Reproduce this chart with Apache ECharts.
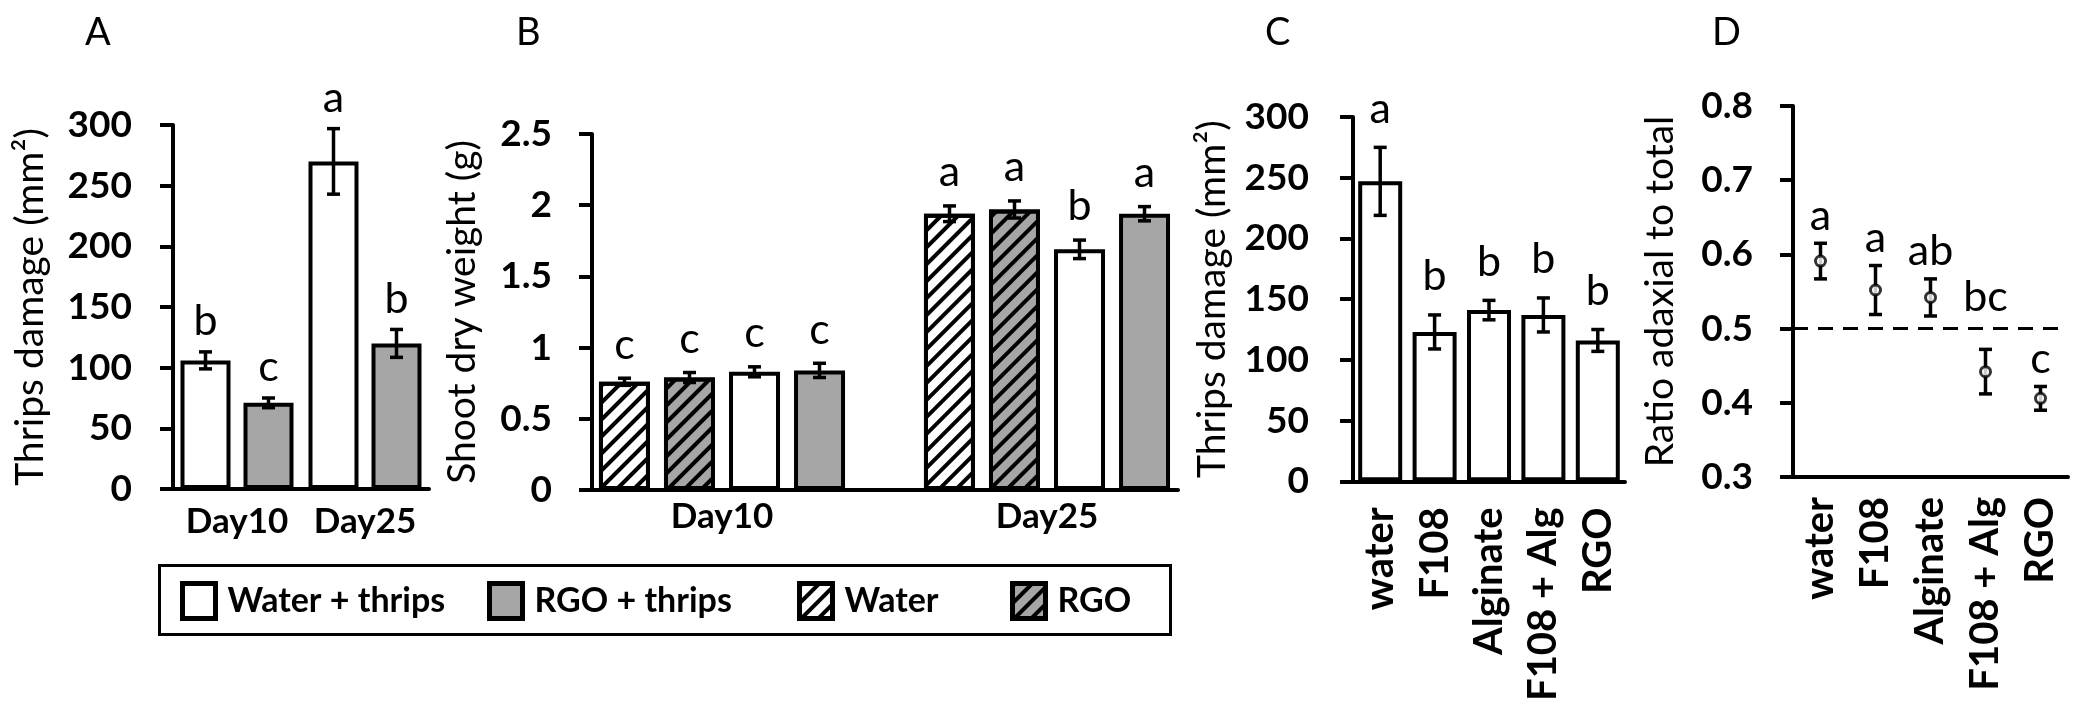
<!DOCTYPE html>
<html>
<head>
<meta charset="utf-8">
<script src="https://cdn.jsdelivr.net/npm/echarts@6/dist/echarts.min.js"></script>
<style>
html,body{margin:0;padding:0;background:#fff;}
#c{width:2080px;height:704px;}
</style>
</head>
<body>
<div id="c"></div>
<script>
// ---------- data ----------
const catsA = ['Day10', 'Day25'];
const ticksA = [0, 50, 100, 150, 200, 250, 300];
const aWaterThrips = [106, 270];
const aWaterThripsErr = [7, 27];
const aWaterThripsLetters = ['b', 'a'];
const aRgoThrips = [71, 120];
const aRgoThripsErr = [4, 11.5];
const aRgoThripsLetters = ['c', 'b'];

const catsB = ['Day10', 'Day25'];
const ticksB = [0, 0.5, 1, 1.5, 2, 2.5];
const bWater = [0.76, 1.94];
const bWaterErr = [0.025, 0.055];
const bWaterLetters = ['c', 'a'];
const bRgo = [0.79, 1.97];
const bRgoErr = [0.035, 0.06];
const bRgoLetters = ['c', 'a'];
const bWaterThrips = [0.83, 1.69];
const bWaterThripsErr = [0.035, 0.065];
const bWaterThripsLetters = ['c', 'b'];
const bRgoThrips = [0.84, 1.94];
const bRgoThripsErr = [0.05, 0.05];
const bRgoThripsLetters = ['c', 'a'];

const catsC = ['water', 'F108', 'Alginate', 'F108 + Alg', 'RGO'];
const ticksC = [0, 50, 100, 150, 200, 250, 300];
const cDamage = [247, 123, 141, 137, 116];
const cDamageErr = [28, 14, 8, 14, 9];
const cLetters = ['a', 'b', 'b', 'b', 'b'];

const catsD = ['water', 'F108', 'Alginate', 'F108 + Alg', 'RGO'];
const ticksD = [0.3, 0.4, 0.5, 0.6, 0.7, 0.8];
const dRatio = [0.591, 0.552, 0.542, 0.442, 0.406];
const dRatioErr = [0.024, 0.033, 0.025, 0.030, 0.016];
const dLetters = ['a', 'a', 'ab', 'bc', 'c'];
const dReference = 0.5;

// ---------- styles ----------
const GRAY = '#a6a6a6';
const FONT = 'Lato';
const LETTER_SIZE = 43;
const axisLineStyle = {show: true, lineStyle: {color: '#000', width: 4}};
const yTick = {show: true, length: 13, lineStyle: {color: '#000', width: 4}};
const tickLabel = (margin) => ({fontFamily: FONT, fontWeight: 'bold', fontSize: 37, color: '#000', margin: margin});
const nameStyle = {fontFamily: FONT, fontSize: 39, color: '#000'};
const hatch = {symbol: 'rect', symbolSize: 1, dashArrayX: [1, 0], dashArrayY: [4, 8], rotation: -Math.PI / 4, color: '#000'};

function errData(vals, errs) { return vals.map((v, i) => [i, v, errs[i]]); }

// avoidValue: optional reference value whose line the letters should not sit on
function errBars(letters, xOff, cap, gap, fontSize, avoidValue) {
  return function (params, api) {
    const i = api.value(0), m = api.value(1), e = api.value(2);
    const top = api.coord([i, m + e]);
    const bot = api.coord([i, m - e]);
    const x = top[0] + xOff;
    let yb = top[1] - gap;
    if (avoidValue != null) {
      const refY = api.coord([i, avoidValue])[1];
      const glyphTop = yb - 0.95 * fontSize, glyphBot = yb - 0.2 * fontSize;
      if (refY > glyphTop && refY < glyphBot) yb = refY - 10;
    }
    const ls = {stroke: '#000', lineWidth: 3.5};
    return {
      type: 'group',
      children: [
        {type: 'line', shape: {x1: x, y1: top[1], x2: x, y2: bot[1]}, style: ls},
        {type: 'line', shape: {x1: x - cap, y1: top[1], x2: x + cap, y2: top[1]}, style: ls},
        {type: 'line', shape: {x1: x - cap, y1: bot[1], x2: x + cap, y2: bot[1]}, style: ls},
        {type: 'text', style: {text: letters[params.dataIndex], x: x, y: yb,
          align: 'center', verticalAlign: 'bottom', textAlign: 'center', textVerticalAlign: 'bottom',
          font: fontSize + 'px ' + FONT, fill: '#000'}}
      ]
    };
  };
}

function errSeries(name, xi, vals, errs, letters, xOff, gap, avoidValue) {
  return {type: 'custom', name: name, xAxisIndex: xi, yAxisIndex: xi, z: 5, clip: false,
    renderItem: errBars(letters, xOff, 6.5, gap, LETTER_SIZE, avoidValue), data: errData(vals, errs)};
}

const barStyle = (color, decal) => {
  const s = {color: color, borderColor: '#000', borderWidth: 4};
  if (decal) s.decal = decal;
  return s;
};

const chart = echarts.init(document.getElementById('c'), null, {renderer: 'canvas'});

const legendCommon = {orient: 'horizontal', padding: 0, itemWidth: 33, itemHeight: 35, itemGap: 0,
  icon: 'rect', selectedMode: false, top: 581,
  itemStyle: {borderColor: '#000', borderWidth: 5},
  textStyle: {fontFamily: FONT, fontWeight: 'bold', fontSize: 34, color: '#000', padding: [0, 0, 0, 7]}};

const panelTitle = (t, left) => ({text: t, left: left, top: 14, padding: 0,
  textStyle: {fontFamily: FONT, fontWeight: 'normal', fontSize: 38, color: '#000'}});

const catLabelBold = (margin) => ({fontFamily: FONT, fontWeight: 'bold', fontSize: 35, color: '#000', margin: margin, interval: 0});
const catLabelRot = (margin) => ({fontFamily: FONT, fontWeight: 'bold', fontSize: 40, color: '#000', margin: margin, rotate: 90, interval: 0});

const option = {
  animation: false,
  backgroundColor: '#fff',
  title: [panelTitle('A', 85), panelTitle('B', 516), panelTitle('C', 1265), panelTitle('D', 1712)],
  legend: [
    Object.assign({}, legendCommon, {left: 180, data: ['Water + thrips']}),
    Object.assign({}, legendCommon, {left: 487, data: ['RGO + thrips']}),
    Object.assign({}, legendCommon, {left: 797, data: ['Water']}),
    Object.assign({}, legendCommon, {left: 1010, data: ['RGO']})
  ],
  graphic: [
    {type: 'rect', left: 157, top: 563, shape: {width: 1011, height: 69},
     style: {fill: 'none', stroke: '#000', lineWidth: 3}, silent: true, z: -1}
  ],
  grid: [
    {left: 173, top: 125, width: 256, height: 364},
    {left: 559.5, top: 134, width: 650, height: 356},
    {left: 1353, top: 117, width: 272, height: 366},
    {left: 1793, top: 106, width: 275, height: 371},
    {left: 592, top: 134, width: 586, height: 356}
  ],
  xAxis: [
    {type: 'category', gridIndex: 0, data: catsA, axisLine: axisLineStyle, axisTick: {show: false},
     axisLabel: catLabelBold(15)},
    {type: 'category', gridIndex: 1, data: catsB, axisLine: {show: false}, axisTick: {show: false},
     axisLabel: catLabelBold(9)},
    {type: 'category', gridIndex: 2, data: catsC, axisLine: axisLineStyle, axisTick: {show: false},
     axisLabel: catLabelRot(26)},
    {type: 'category', gridIndex: 3, data: catsD, axisLine: axisLineStyle, axisTick: {show: false},
     axisLabel: catLabelRot(20)},
    {type: 'value', gridIndex: 4, min: 0, max: 1, axisLine: axisLineStyle, axisTick: {show: false},
     axisLabel: {show: false}, splitLine: {show: false}}
  ],
  yAxis: [
    {type: 'value', gridIndex: 0, min: ticksA[0], max: ticksA[ticksA.length - 1], interval: ticksA[1] - ticksA[0],
     axisLine: axisLineStyle, axisTick: yTick, splitLine: {show: false}, axisLabel: tickLabel(41),
     name: 'Thrips damage (mm²)', nameLocation: 'middle', nameRotate: 90, nameGap: 123, nameTextStyle: nameStyle},
    {type: 'value', gridIndex: 1, offset: -32.5, min: ticksB[0], max: ticksB[ticksB.length - 1], interval: ticksB[1] - ticksB[0],
     axisLine: axisLineStyle, axisTick: yTick, splitLine: {show: false}, axisLabel: tickLabel(40),
     name: 'Shoot dry weight (g)', nameLocation: 'middle', nameRotate: 90, nameGap: 110, nameTextStyle: nameStyle},
    {type: 'value', gridIndex: 2, min: ticksC[0], max: ticksC[ticksC.length - 1], interval: ticksC[1] - ticksC[0],
     axisLine: axisLineStyle, axisTick: yTick, splitLine: {show: false}, axisLabel: tickLabel(44),
     name: 'Thrips damage (mm²)', nameLocation: 'middle', nameRotate: 90, nameGap: 121, nameTextStyle: nameStyle},
    {type: 'value', gridIndex: 3, min: ticksD[0], max: ticksD[ticksD.length - 1], interval: 0.1,
     axisLine: axisLineStyle, axisTick: yTick, splitLine: {show: false},
     axisLabel: Object.assign(tickLabel(40), {formatter: v => v.toFixed(1)}),
     name: 'Ratio adaxial to total', nameLocation: 'middle', nameRotate: 90, nameGap: 113, nameTextStyle: nameStyle},
    {type: 'value', gridIndex: 4, show: false}
  ],
  series: [
    // Panel A
    {type: 'bar', name: 'Water + thrips', xAxisIndex: 0, yAxisIndex: 0, data: aWaterThrips, barWidth: 50, barGap: '26%', itemStyle: barStyle('#fff')},
    {type: 'bar', name: 'RGO + thrips', xAxisIndex: 0, yAxisIndex: 0, data: aRgoThrips, barWidth: 50, barGap: '26%', itemStyle: barStyle(GRAY)},
    errSeries('errA1', 0, aWaterThrips, aWaterThripsErr, aWaterThripsLetters, -31.5, 9),
    errSeries('errA2', 0, aRgoThrips, aRgoThripsErr, aRgoThripsLetters, 31.5, 9),
    // Panel B
    {type: 'bar', name: 'Water', xAxisIndex: 1, yAxisIndex: 1, data: bWater, barWidth: 51, barGap: '27.5%', itemStyle: barStyle('#fff', hatch)},
    {type: 'bar', name: 'RGO', xAxisIndex: 1, yAxisIndex: 1, data: bRgo, barWidth: 51, barGap: '27.5%', itemStyle: barStyle(GRAY, hatch)},
    {type: 'bar', name: 'Water + thrips', xAxisIndex: 1, yAxisIndex: 1, data: bWaterThrips, barWidth: 51, barGap: '27.5%', itemStyle: barStyle('#fff')},
    {type: 'bar', name: 'RGO + thrips', xAxisIndex: 1, yAxisIndex: 1, data: bRgoThrips, barWidth: 51, barGap: '27.5%', itemStyle: barStyle(GRAY)},
    errSeries('errB1', 1, bWater, bWaterErr, bWaterLetters, -97.5, 12),
    errSeries('errB2', 1, bRgo, bRgoErr, bRgoLetters, -32.5, 12),
    errSeries('errB3', 1, bWaterThrips, bWaterThripsErr, bWaterThripsLetters, 32.5, 12),
    errSeries('errB4', 1, bRgoThrips, bRgoThripsErr, bRgoThripsLetters, 97.5, 12),
    // Panel C
    {type: 'bar', name: 'Treatment damage', xAxisIndex: 2, yAxisIndex: 2, data: cDamage, barWidth: 44, itemStyle: barStyle('#fff')},
    errSeries('errC', 2, cDamage, cDamageErr, cLetters, 0, 17),
    // Panel D
    errSeries('errD', 3, dRatio, dRatioErr, dLetters, 0, 6, dReference),
    {type: 'scatter', name: 'Ratio', xAxisIndex: 3, yAxisIndex: 3, data: dRatio, z: 6,
     symbol: 'circle', symbolSize: 10, itemStyle: {color: '#fff', borderColor: '#000', borderWidth: 3},
     markLine: {silent: true, symbol: ['none', 'none'], label: {show: false},
       lineStyle: {color: '#000', width: 3, type: [15, 10]}, data: [{yAxis: dReference}]}}
  ]
};
chart.setOption(option);
</script>
</body>
</html>
